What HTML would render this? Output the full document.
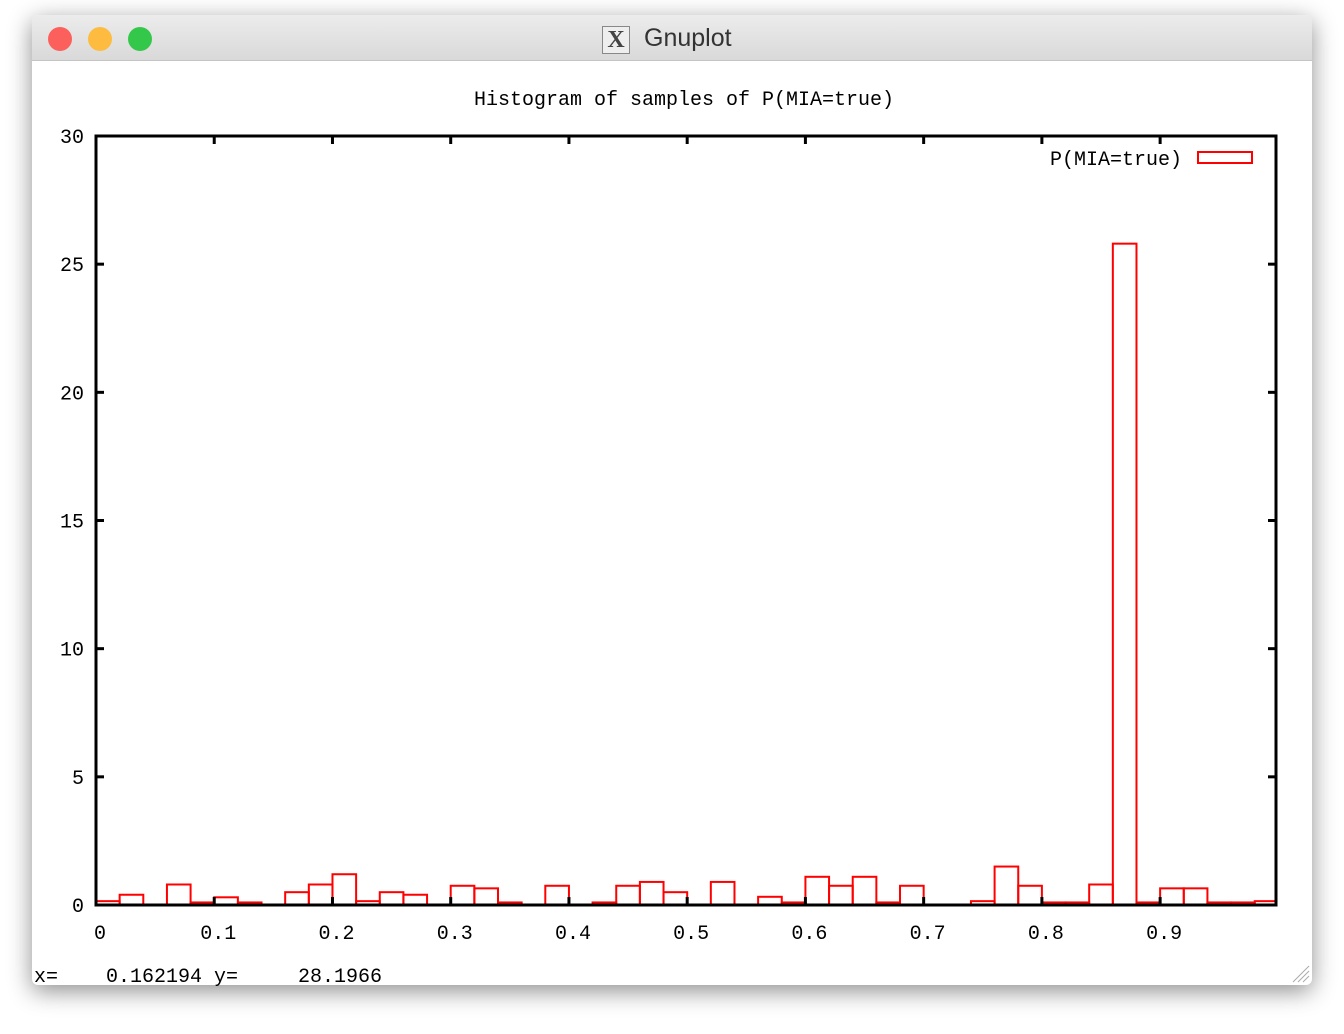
<!DOCTYPE html>
<html><head><meta charset="utf-8"><style>
body{margin:0;width:1344px;height:1034px;background:#fff;overflow:hidden;font-family:"Liberation Sans",sans-serif}
#win{position:absolute;left:32px;top:15px;width:1280px;height:970px;background:#fff;border-radius:6px;box-shadow:0 6px 24px rgba(0,0,0,0.45);overflow:hidden}
#bar{position:absolute;left:0;top:0;width:1280px;height:45px;background:linear-gradient(#ececec,#d9d9d9);border-bottom:1px solid #c4c4c4}
.dot{position:absolute;top:12px;width:24px;height:24px;border-radius:50%}
#ttl{position:absolute;left:612px;top:9px;font-size:25px;color:#333}
#xicon{position:absolute;left:570px;top:11px;width:26px;height:26px;border:1px solid #888;background:#eee;font:bold 24px "Liberation Serif",serif;text-align:center;line-height:26px;color:#444}
</style></head><body>
<div id="win">
<div id="bar">
<div class="dot" style="left:16px;background:#fc605c"></div>
<div class="dot" style="left:56px;background:#fdbc40"></div>
<div class="dot" style="left:96px;background:#34c84a"></div>
<div id="xicon">X</div>
<div id="ttl">Gnuplot</div>
</div>
</div>
<svg id="chart" width="1344" height="1034" style="position:absolute;left:0;top:0"></svg>
<script>
const binStarts=[0,0.02,0.04,0.06,0.08,0.10,0.12,0.14,0.16,0.18,0.20,0.22,0.24,0.26,0.28,0.30,0.32,0.34,0.36,0.38,0.40,0.42,0.44,0.46,0.48,0.50,0.52,0.54,0.56,0.58,0.60,0.62,0.64,0.66,0.68,0.70,0.72,0.74,0.76,0.78,0.80,0.82,0.84,0.86,0.88,0.90,0.92,0.94,0.96,0.98];
const counts=[0.15,0.4,0,0.8,0.1,0.3,0.1,0,0.5,0.8,1.2,0.15,0.5,0.4,0,0.75,0.65,0.1,0,0.75,0,0.1,0.75,0.9,0.5,0,0.9,0,0.32,0.1,1.1,0.75,1.1,0.1,0.75,0,0,0.15,1.5,0.75,0.1,0.1,0.8,25.8,0.1,0.65,0.65,0.1,0.1,0.15];
const binWidth=0.02;
const xTicks=[0,0.1,0.2,0.3,0.4,0.5,0.6,0.7,0.8,0.9];
const xTickLabels=["0","0.1","0.2","0.3","0.4","0.5","0.6","0.7","0.8","0.9"];
const yTicks=[0,5,10,15,20,25,30];
const yTickLabels=["0","5","10","15","20","25","30"];
const L=96,R=1276,T=136,B=905,xMin=0,xMax=0.998,yMin=0,yMax=30;
const X=v=>L+(v-xMin)/(xMax-xMin)*(R-L);
const Y=v=>B-(v-yMin)/(yMax-yMin)*(B-T);
const svg=document.getElementById('chart');
const NS='http://www.w3.org/2000/svg';
function mk(tag,attrs,parent){const e=document.createElementNS(NS,tag);for(const k in attrs)e.setAttribute(k,attrs[k]);(parent||svg).appendChild(e);return e;}
const F='"Liberation Mono",monospace';
let t=mk('text',{x:684,y:105,'font-family':F,'font-size':20,'text-anchor':'middle',fill:'#000'});t.textContent='Histogram of samples of P(MIA=true)';


const bars=mk('g',{});


counts.forEach((c,i)=>{
  if(c<=0)return;
  const x0=X(binStarts[i]),x1=Math.min(X(binStarts[i]+binWidth),R);
  const r=mk('rect',{x:x0,y:Y(c),width:x1-x0,height:B-Y(c),fill:'none',stroke:'#f00','stroke-width':2},bars);
  
  
});
const ax=mk('g',{});


yTicks.forEach((v,i)=>{
  mk('line',{x1:L,x2:L+8,y1:Y(v),y2:Y(v),stroke:'#000','stroke-width':3},ax);
  mk('line',{x1:R-8,x2:R,y1:Y(v),y2:Y(v),stroke:'#000','stroke-width':3},ax);
  const l=mk('text',{x:84,y:Y(v)+7,'font-family':F,'font-size':20,'text-anchor':'end'},ax);l.textContent=yTickLabels[i];
  
  
});
xTicks.forEach((v,i)=>{
  mk('line',{x1:X(v),x2:X(v),y1:B,y2:B-8,stroke:'#000','stroke-width':3},ax);
  mk('line',{x1:X(v),x2:X(v),y1:T,y2:T+8,stroke:'#000','stroke-width':3},ax);
  const l=mk('text',{x:X(v)+4,y:939,'font-family':F,'font-size':20,'text-anchor':'middle'},ax);l.textContent=xTickLabels[i];
  
  
});
mk('rect',{x:L,y:T,width:R-L,height:B-T,fill:'none',stroke:'#000','stroke-width':3},ax);
const lg=mk('g',{});


t=mk('text',{x:1182,y:165,'font-family':F,'font-size':20,'text-anchor':'end'},lg);t.textContent='P(MIA=true)';
mk('rect',{x:1198,y:152,width:54,height:11,fill:'none',stroke:'#f00','stroke-width':2},lg);
t=mk('text',{x:34,y:982,'font-family':F,'font-size':20,style:'white-space:pre'},svg);t.textContent='x=    0.162194 y=     28.1966';


const gr=mk('g',{stroke:'#aaa','stroke-width':1});


[6,11,16].forEach(d=>mk('line',{x1:1309-d,y1:982,x2:1309,y2:982-d},gr));
</script>
</body></html>
